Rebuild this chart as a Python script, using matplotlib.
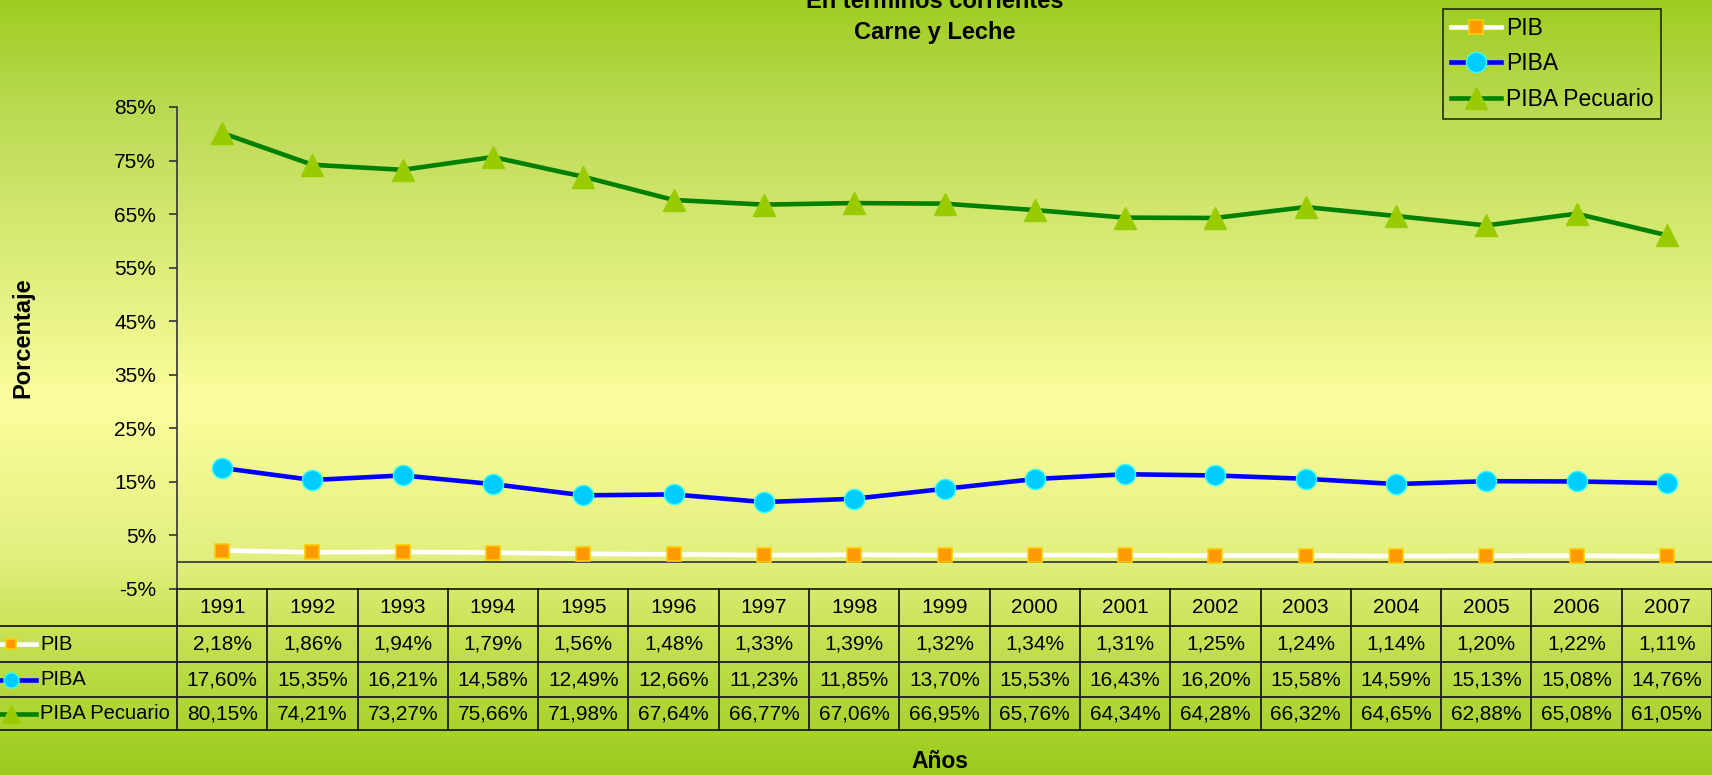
import numpy as np
import matplotlib
matplotlib.use("Agg")
import matplotlib.pyplot as plt
from matplotlib.lines import Line2D
from matplotlib.colors import LinearSegmentedColormap
import matplotlib.transforms as mtransforms

years = [1991, 1992, 1993, 1994, 1995, 1996, 1997, 1998, 1999, 2000,
         2001, 2002, 2003, 2004, 2005, 2006, 2007]
pib = [2.18, 1.86, 1.94, 1.79, 1.56, 1.48, 1.33, 1.39, 1.32, 1.34,
       1.31, 1.25, 1.24, 1.14, 1.20, 1.22, 1.11]
piba = [17.60, 15.35, 16.21, 14.58, 12.49, 12.66, 11.23, 11.85, 13.70, 15.53,
        16.43, 16.20, 15.58, 14.59, 15.13, 15.08, 14.76]
piba_pec = [80.15, 74.21, 73.27, 75.66, 71.98, 67.64, 66.77, 67.06, 66.95, 65.76,
            64.34, 64.28, 66.32, 64.65, 62.88, 65.08, 61.05]
series_names = ["PIB", "PIBA", "PIBA Pecuario"]
yticks = [-5, 5, 15, 25, 35, 45, 55, 65, 75, 85]

plt.rcParams['font.family'] = ['Liberation Sans', 'DejaVu Sans']

W, H = 1712, 775
fig = plt.figure(figsize=(W / 100, H / 100), dpi=100)

def fx(px):
    return px / W

def fy(py):
    return 1 - py / H

# background gradient
bg = fig.add_axes([0, 0, 1, 1], zorder=-10)
bg.set_axis_off()
cmap = LinearSegmentedColormap.from_list(
    "bg", [(0.0, "#9ECD22"), (0.15, "#BCDB55"), (0.52, "#FCFE9E"),
           (0.72, "#E2EF7E"), (0.85, "#C0DE4A"), (1.0, "#9ACB1C")])
grad = np.linspace(0, 1, 512).reshape(-1, 1)
bg.imshow(grad, aspect="auto", cmap=cmap, extent=[0, 1, 0, 1], origin="upper")
bg.set_xlim(0, 1)
bg.set_ylim(0, 1)

# main axes
top_px, bot_px, left_px = 107, 589, 177
ax = fig.add_axes([fx(left_px), fy(bot_px), 1 - fx(left_px), (bot_px - top_px) / H])
ax.set_facecolor("none")
x = np.arange(len(years))
ax.set_xlim(-0.5, len(years) - 0.5)
ax.set_ylim(-5, 85)

styles = [
    dict(color="white", marker="s", markersize=9.5, markerfacecolor="#FF9900",
         markeredgecolor="#FFCC00", markeredgewidth=1.2),
    dict(color="#0000FF", marker="o", markersize=14.5, markerfacecolor="#00CCFF",
         markeredgecolor="#33FFFF", markeredgewidth=1.0),
    dict(color="#008000", marker="^", markersize=16.5, markerfacecolor="#99CC00",
         markeredgecolor="#99CC00", markeredgewidth=1.0),
]
handles = []
for vals, name, st in zip([pib, piba, piba_pec], series_names, styles):
    h, = ax.plot(x, vals, linewidth=3.3, label=name, zorder=3, **st)
    handles.append(h)

ax.axhline(0, color="#333333", linewidth=1.2, zorder=2)
for s in ["top", "right"]:
    ax.spines[s].set_visible(False)
ax.spines["left"].set_color("#333333")
ax.spines["left"].set_linewidth(1.2)
ax.spines["bottom"].set_color("#111111")
ax.spines["bottom"].set_linewidth(1.2)
ax.set_yticks(yticks)
ax.set_yticklabels([f"{v}%" for v in yticks])
ax.tick_params(axis="y", direction="out", length=6, width=1.2, color="#333333",
               labelsize=15, pad=9)
ax.set_xticks([])

# legend
leg = fig.legend(handles=handles, labels=series_names, loc="upper right",
                 bbox_to_anchor=(fx(1661), fy(9)), borderaxespad=0,
                 frameon=True, fancybox=False, edgecolor="black", facecolor="none",
                 fontsize=16.5, handlelength=2.2, labelspacing=0.56,
                 handletextpad=0.2, borderpad=0.33)
leg.get_frame().set_linewidth(1.2)

# data table
row_edges_px = [589, 626, 662, 697, 730]
def ay(py):
    return (bot_px - py) / (bot_px - top_px)

trans = mtransforms.blended_transform_factory(ax.transData, ax.transAxes)
line_kw = dict(color="#1a1a1a", linewidth=1.3)
for i in range(len(years) + 1):
    ax.add_line(Line2D([i - 0.5, i - 0.5], [ay(589), ay(730)], transform=trans,
                       clip_on=False, **line_kw))
for py in row_edges_px[1:]:
    fig.add_artist(Line2D([0, 1], [fy(py), fy(py)], transform=fig.transFigure, **line_kw))

def fmt(v):
    return f"{v:.2f}".replace(".", ",") + "%"

for i, yr in enumerate(years):
    yc = (row_edges_px[0] + row_edges_px[1]) / 2
    ax.text(i, ay(yc), str(yr), transform=trans, ha="center", va="center", fontsize=15)
for r, vals in enumerate([pib, piba, piba_pec]):
    yc = (row_edges_px[r + 1] + row_edges_px[r + 2]) / 2
    for i, v in enumerate(vals):
        ax.text(i, ay(yc), fmt(v), transform=trans, ha="center", va="center", fontsize=15)
    st = dict(styles[r])
    st["markersize"] = st["markersize"] * 0.75
    fig.add_artist(Line2D([fx(0), fx(36)], [fy(yc), fy(yc)], transform=fig.transFigure,
                          linewidth=3.3, color=st["color"]))
    fig.add_artist(Line2D([fx(11)], [fy(yc)], transform=fig.transFigure, linestyle="none",
                          marker=st["marker"], markersize=st["markersize"],
                          markerfacecolor=st["markerfacecolor"],
                          markeredgecolor=st["markeredgecolor"],
                          markeredgewidth=st["markeredgewidth"]))
    fig.text(fx(40), fy(yc), series_names[r], ha="left", va="center", fontsize=14.5)

# titles and labels
fig.text(fx(935), fy(1), "En términos corrientes", ha="center", va="center",
         fontsize=17, fontweight="bold")
fig.text(fx(935), fy(33), "Carne y Leche", ha="center", va="center",
         fontsize=17, fontweight="bold")
fig.text(fx(940), fy(762), "Años", ha="center", va="center", fontsize=16.5, fontweight="bold")
fig.text(fx(23), fy(338), "Porcentaje", ha="center", va="center", rotation=90,
         fontsize=17, fontweight="bold")

fig.savefig("out.png", dpi=100)
